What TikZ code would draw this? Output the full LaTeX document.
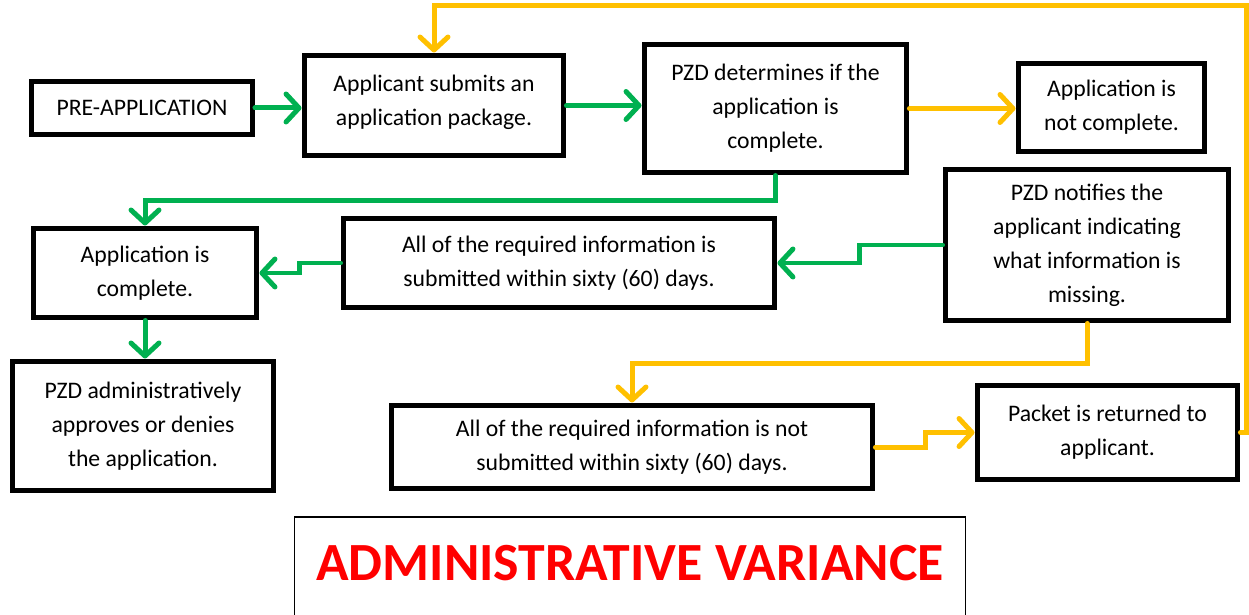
\documentclass[tikz,border=0pt]{standalone}
\usepackage{fontspec}
\setmainfont{Carlito}
\usepackage{tikz}
\usetikzlibrary{arrows.meta}
\definecolor{flowgreen}{RGB}{0,176,80}
\definecolor{flowyellow}{RGB}{255,192,0}
\definecolor{flowred}{RGB}{255,0,0}
\tikzset{
    box/.style={shape=rectangle, draw=black, line width=0.1cm, align=center, inner sep=0pt,
        font=\fontsize{13.5}{19.3}\selectfont},
    yes/.style={draw=flowgreen, line width=0.1cm, line cap=round,
        -{Straight Barb[length=0.26cm, width=0.56cm, round]}},
    no/.style={yes, draw=flowyellow}}

\begin{document}
\begin{tikzpicture}[x=0.02cm, y=-0.02cm]
        \useasboundingbox (0,0) rectangle (1249,615);

                    \node[box, minimum width=4.42cm, minimum height=1.06cm] (pre) at (142,108) {PRE-APPLICATION};
                    \node[box, minimum width=5.2cm, minimum height=2.02cm, text depth=0.2cm] (submit) at (434,105.5) {Applicant submits an\\application package.};
                    \node[box, minimum width=5.26cm, minimum height=2.58cm] (check) at (775.5,108.5) {PZD determines if the\\application is\\complete.};
                    \node[box, minimum width=3.74cm, minimum height=1.78cm] (incomplete) at (1111.5,107.5) {Application is\\not complete.};
                    \node[box, minimum width=5.68cm, minimum height=3.04cm] (notify) at (1087,245) {PZD notifies the\\applicant indicating\\what information is\\missing.};
                    \node[box, minimum width=8.64cm, minimum height=1.8cm] (within) at (559,263) {All of the required information is\\submitted within sixty (60) days.};
                    \node[box, minimum width=4.48cm, minimum height=1.8cm] (complete) at (145,273) {Application is\\complete.};
                    \node[box, minimum width=5.24cm, minimum height=2.6cm] (decide) at (143,426) {PZD administratively\\approves or denies\\the application.};
                    \node[box, minimum width=9.64cm, minimum height=1.68cm] (late) at (632,447) {All of the required information is not\\submitted within sixty (60) days.};
                    \node[box, minimum width=5.22cm, minimum height=1.9cm] (returned) at (1107.5,432.5) {Packet is returned to\\applicant.};

                    % title banner, its lower edge runs off the page
                    \node[draw=black, line width=0.6pt, minimum width=13.44cm, minimum height=2.06cm, text depth=0.24cm,
                        text=flowred, font=\fontsize{30.6}{31}\selectfont\bfseries] (title) at (630,568.5) {ADMINISTRATIVE VARIANCE};

                    \coordinate (corner) at (1246,6);

                    % complete path
                    \draw[yes] (pre.east) -- (pre.east -| submit.west);
                    \draw[yes] (submit.east) -- (submit.east -| check.west);
                    \draw[yes] (check.south) -- ++(0,25) -| (complete.north);
                    \draw[yes] (notify.west) -- ++(-83,0) |- (within.east);
                    \draw[yes] (within.west) -- ++(-41,0) |- (complete.east);
                    \draw[yes] (complete.south) -- (decide.north -| complete.south);

                    % incomplete path
                    \draw[no] (check.east) -- (check.east -| incomplete.west);
                    \draw[no] (notify.south) -- ++(0,40) -| (late.north);
                    \draw[no] (late.east) -- ++(50,0) |- (returned.west);
                    \draw[no] (returned.east) -| (corner) -| (submit.north);

                \end{tikzpicture}
\end{document}
